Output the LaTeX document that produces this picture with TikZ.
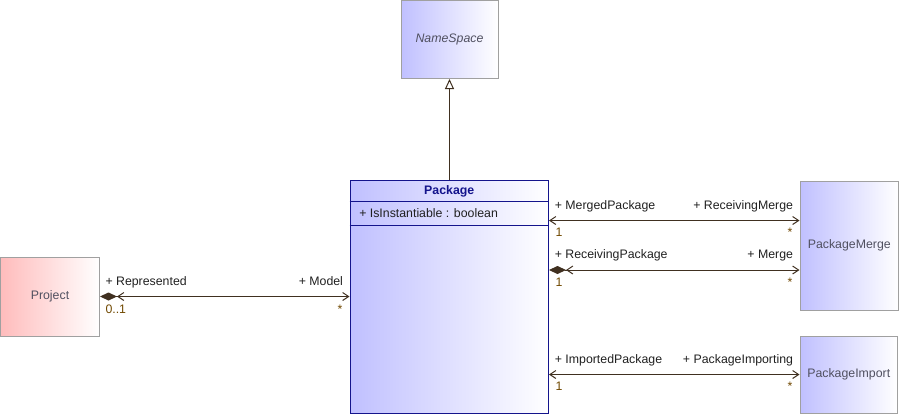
\documentclass[tikz,border=0pt]{standalone}
\usepackage{fontspec}
\setmainfont{Liberation Sans}
\usetikzlibrary{arrows.meta}
\definecolor{umlline}{RGB}{64,48,32}
\definecolor{umlgray}{RGB}{160,160,160}
\definecolor{umlnavy}{RGB}{20,20,140}
\definecolor{umlblue}{RGB}{192,192,255}
\definecolor{umlpink}{RGB}{255,188,188}
\definecolor{umltext}{RGB}{80,80,96}
\definecolor{umlrole}{RGB}{32,32,32}
\definecolor{umlmult}{RGB}{112,72,0}
\tikzset{
  umlfont/.style = {font=\fontsize{9.25}{11}\selectfont},
  classbox/.style = {draw=umlgray, line width=0.75pt, left color=umlblue, right color=white,
                     text=umltext, umlfont, inner sep=0pt},
  assoc/.style = {draw=umlline, line width=0.75pt},
  role/.style = {umlfont, text=umlrole, inner sep=0pt},
  mult/.style = {umlfont, text=umlmult, inner sep=0pt},
  openbarb/.tip = {Straight Barb[length=4.5pt, width=6pt]},
  compdiamond/.tip = {Diamond[length=12.75pt, width=6pt]},
}
\begin{document}
\begin{tikzpicture}[x=0.75pt, y=-0.75pt]
  \useasboundingbox (0,0) rectangle (900,415);
  % classes
  \node[classbox, minimum width=97*0.75pt, minimum height=78*0.75pt, font=\fontsize{9.25}{11}\selectfont\itshape] (namespace) at (449.5,39.5) {NameSpace};
  \node[classbox, draw=umlnavy, minimum width=198.5*0.75pt, minimum height=232.5*0.75pt] (package) at (449.25,296.75) {};
  \node[classbox, left color=umlpink, minimum width=99*0.75pt, minimum height=79*0.75pt] (project) at (50,296.5) {Project};
  \node[classbox, minimum width=98.5*0.75pt, minimum height=129*0.75pt] (pkgmerge) at (849.25,245.5) {PackageMerge};
  \node[classbox, minimum width=97.5*0.75pt, minimum height=77*0.75pt] (pkgimport) at (848.75,374.5) {PackageImport};
  % package compartments
  \node[font=\fontsize{9.25}{11}\selectfont\bfseries, text=umlnavy] (pkgtitle) at (449.25,191) {Package};
  \node[role, anchor=west] (pkgattr) at (359,213) {+ IsInstantiable : boolean};
  \draw[umlnavy, line width=0.75pt] (package.west |- 0,201) -- (package.east |- 0,201);
  \draw[umlnavy, line width=0.75pt] (package.west |- 0,225.5) -- (package.east |- 0,225.5);
  % generalization
  \draw[assoc, -{Triangle[open, length=7.5pt, width=6.75pt]}] (package.north -| namespace.south) -- (namespace.south);
  % associations
  \draw[assoc, {compdiamond[]openbarb[]}-{openbarb[]}] (project.east) -- (project.east -| package.west)
    node[role, pos=0, anchor=base west, xshift=3.75pt, yshift=8.25pt] (rRepresented) {+ Represented}
    node[mult, pos=0, anchor=base west, xshift=3.75pt, yshift=-12.5pt] (mRepresented) {0..1}
    node[role, pos=1, anchor=base east, xshift=-4.5pt, yshift=8.25pt] (rModel) {+ Model}
    node[mult, pos=1, anchor=base east, xshift=-5pt, yshift=-12.5pt] (mModel) {*};
  \draw[assoc, {openbarb[]}-{openbarb[]}] (package.east |- 0,220.5) -- (pkgmerge.west |- 0,220.5)
    node[role, pos=0, anchor=base west, xshift=4pt, yshift=8.5pt] (rMerged) {+ MergedPackage}
    node[mult, pos=0, anchor=base west, xshift=4.5pt, yshift=-12pt] (mMerged) {1}
    node[role, pos=1, anchor=base east, xshift=-4.5pt, yshift=8.5pt] (rRecvMerge) {+ ReceivingMerge}
    node[mult, pos=1, anchor=base east, xshift=-5pt, yshift=-12pt] (mRecvMerge) {*};
  \draw[assoc, {compdiamond[]openbarb[]}-{openbarb[]}] (package.east |- 0,270) -- (pkgmerge.west |- 0,270)
    node[role, pos=0, anchor=base west, xshift=4pt, yshift=8.5pt] (rRecvPkg) {+ ReceivingPackage}
    node[mult, pos=0, anchor=base west, xshift=4.5pt, yshift=-12pt] (mRecvPkg) {1}
    node[role, pos=1, anchor=base east, xshift=-4.5pt, yshift=8.5pt] (rMerge) {+ Merge}
    node[mult, pos=1, anchor=base east, xshift=-5pt, yshift=-12pt] (mMerge) {*};
  \draw[assoc, {openbarb[]}-{openbarb[]}] (package.east |- pkgimport.west) -- (pkgimport.west)
    node[role, pos=0, anchor=base west, xshift=4pt, yshift=8.5pt] (rImported) {+ ImportedPackage}
    node[mult, pos=0, anchor=base west, xshift=4.5pt, yshift=-12pt] (mImported) {1}
    node[role, pos=1, anchor=base east, xshift=-4.5pt, yshift=8.5pt] (rImporting) {+ PackageImporting}
    node[mult, pos=1, anchor=base east, xshift=-5pt, yshift=-12pt] (mImporting) {*};
\end{tikzpicture}
\end{document}
